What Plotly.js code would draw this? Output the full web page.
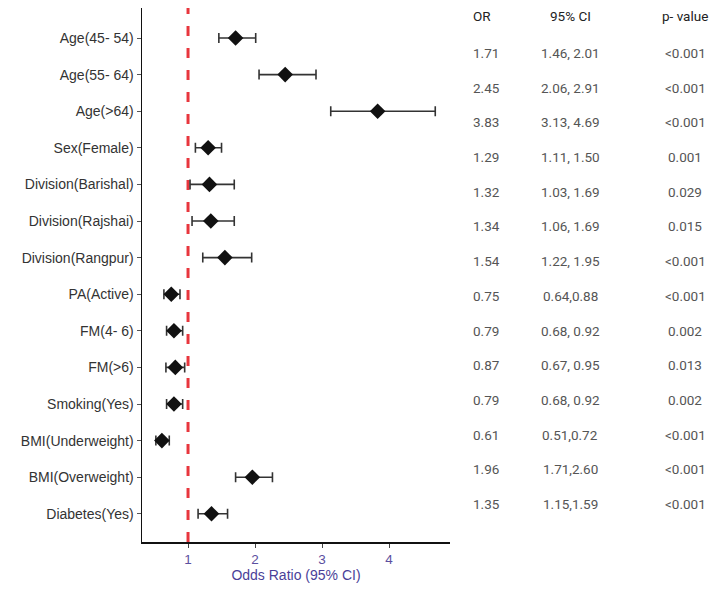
<!DOCTYPE html>
<html>
<head>
<meta charset="utf-8">
<script src="https://cdn.plot.ly/plotly-3.0.1.min.js"></script>
<style>html,body{margin:0;padding:0;background:#fff;}</style>
</head>
<body>
<div id="chart" style="width:724px;height:589px;"></div>
<script>
// ---- data ----
const categories = ["Age(45- 54)","Age(55- 64)","Age(>64)","Sex(Female)","Division(Barishal)","Division(Rajshai)","Division(Rangpur)","PA(Active)","FM(4- 6)","FM(>6)","Smoking(Yes)","BMI(Underweight)","BMI(Overweight)","Diabetes(Yes)"];
// plotted estimates and intervals (as drawn)
const orValues = [1.71,2.45,3.83,1.30,1.32,1.34,1.55,0.75,0.79,0.81,0.79,0.61,1.96,1.35];
const ciLower  = [1.46,2.06,3.13,1.11,1.03,1.06,1.22,0.64,0.68,0.67,0.68,0.52,1.71,1.15];
const ciUpper  = [2.01,2.91,4.69,1.50,1.69,1.69,1.95,0.88,0.92,0.95,0.92,0.72,2.26,1.59];
// table text
const orText = ["1.71","2.45","3.83","1.29","1.32","1.34","1.54","0.75","0.79","0.87","0.79","0.61","1.96","1.35"];
const ciText = ["1.46, 2.01","2.06, 2.91","3.13, 4.69","1.11, 1.50","1.03, 1.69","1.06, 1.69","1.22, 1.95","0.64,0.88","0.68, 0.92","0.67, 0.95","0.68, 0.92","0.51,0.72","1.71,2.60","1.15,1.59"];
const pText  = ["<0.001","<0.001","<0.001","0.001","0.029","0.015","<0.001","<0.001","0.002","0.013","0.002","<0.001","<0.001","<0.001"];
const tableHeaders = ["OR","95% CI","p- value"];
const refValue = 1;
const xTicks = [1,2,3,4];

// ---- layout helpers (pixel geometry) ----
const W = 724, H = 589;
const mL = 142, mR = 274, mT = 8, mB = 47;
const plotW = W - mL - mR, plotH = H - mT - mB;
const px2paperX = px => (px - mL) / plotW;
const px2paperY = py => (H - mB - py) / plotH;

const trace = {
  type: "scatter",
  mode: "markers",
  x: orValues,
  y: categories,
  marker: {symbol: "diamond", size: 12, color: "#111111"},
  error_x: {
    type: "data", symmetric: false,
    array: orValues.map((v,i) => ciUpper[i] - v),
    arrayminus: orValues.map((v,i) => v - ciLower[i]),
    color: "#333333", thickness: 1.6, width: 5
  },
  cliponaxis: false,
  hoverinfo: "skip"
};

const annotations = [];
const colX = [471, 570, 685];
const colAnchor = ["left","center","center"];
tableHeaders.forEach((h,j) => {
  annotations.push({xref:"paper", yref:"paper", x:px2paperX(colX[j]), y:px2paperY(16),
    text:h, showarrow:false, xanchor:colAnchor[j], yanchor:"middle",
    font:{family:"Roboto, Arial", size:13.5, color:"#222"}});
});
const rowTop = 53, rowStep = 34.7;
categories.forEach((c,i) => {
  const py = rowTop + i*rowStep;
  [orText[i], ciText[i], pText[i]].forEach((t,j) => {
    annotations.push({xref:"paper", yref:"paper", x:px2paperX(colX[j]), y:px2paperY(py),
      text:t.replace("<","&lt;"), showarrow:false, xanchor:colAnchor[j], yanchor:"middle",
      font:{family:"Roboto, Arial", size:13.5, color:"#555"}});
  });
});

const layout = {
  width: W, height: H,
  margin: {l: mL, r: mR, t: mT, b: mB, pad: 0},
  paper_bgcolor: "#ffffff", plot_bgcolor: "#ffffff",
  showlegend: false,
  xaxis: {
    range: [0.313, 4.91],
    tickvals: xTicks, ticktext: xTicks.map(String),
    showgrid: false, zeroline: false,
    showline: true, linecolor: "#111", linewidth: 1.5,
    ticks: "outside", ticklen: 4, tickcolor: "#444", tickwidth: 1,
    tickfont: {family: "Liberation Sans, Arial", size: 13.5, color: "#5b4fa0"},
    title: {text: "Odds Ratio (95% CI)", standoff: 4,
      font: {family: "Liberation Sans, Arial", size: 14, color: "#4a3f99"}}
  },
  yaxis: {
    type: "category",
    categoryorder: "array", categoryarray: categories,
    range: [13.77, -0.82],
    showgrid: false, zeroline: false,
    showline: true, linecolor: "#111", linewidth: 1.5,
    ticks: "outside", ticklen: 4, tickcolor: "#555", tickwidth: 1,
    tickfont: {family: "Liberation Sans, Arial", size: 14, color: "#333"}
  },
  shapes: [{
    type: "line", xref: "x", yref: "paper",
    x0: refValue, x1: refValue, y0: 0, y1: 1,
    line: {color: "#e8363d", width: 3, dash: "10px,12px"},
    layer: "below"
  }],
  annotations: annotations
};

Plotly.newPlot("chart", [trace], layout, {displayModeBar: false, staticPlot: true});
</script>
</body>
</html>
